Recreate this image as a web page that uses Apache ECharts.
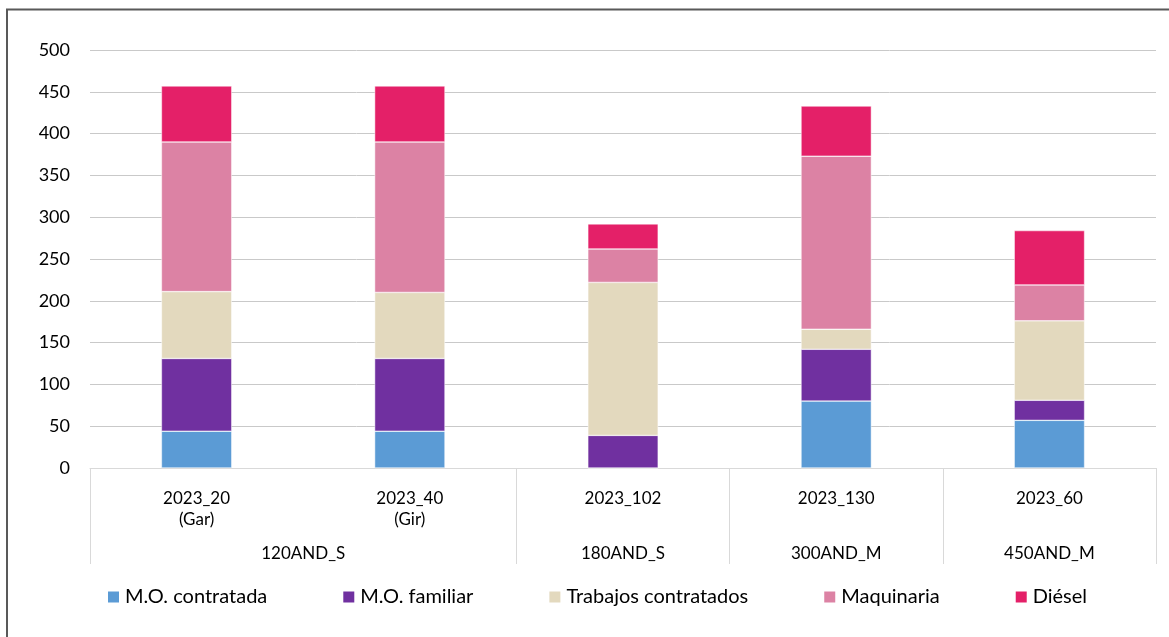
<!DOCTYPE html>
<html lang="es">
<head>
    <meta charset="UTF-8">
    <title>Costes por explotación</title>
    <script src="https://cdn.jsdelivr.net/npm/echarts@6/dist/echarts.min.js"></script>
    <style>
        body { margin: 0; background: #fff; }
    </style>
</head>
<body>
<div id="main" style="width: 1169px;height: 637px"></div>
<script type="text/javascript">
    // datos
    var categorias = ['2023_20\n(Gar)', '2023_40\n(Gir)', '2023_102', '2023_130', '2023_60'];
    var grupos = ['120AND_S', '180AND_S', '300AND_M', '450AND_M'];
    var gruposCentro = [1, 2.5, 3.5, 4.5];   // posición del rótulo de cada grupo
    var gruposLimites = [0, 2, 3, 4, 5];     // separadores entre grupos

    var moContratada = [44, 44, 0, 80, 57];
    var moFamiliar = [87, 87, 39, 62, 24];
    var trabajosContratados = [80, 79, 183, 24, 95];
    var maquinaria = [179, 180, 40, 207, 43];
    var diesel = [67, 67, 30, 60, 65];

    var fuente = 'Lato';
    var myChart = echarts.init(document.getElementById('main'));

    function serie(nombre, datos, color) {
        return {
            name: nombre,
            type: 'bar',
            stack: 'total',
            barWidth: '33%',
            data: datos,
            itemStyle: {color: color, borderColor: '#ffffff', borderWidth: 0.5}
        };
    }

    var option = {
        textStyle: {fontFamily: fuente},
        animation: false,
        grid: {left: 90, right: 13, top: 50, bottom: 169},
        graphic: [{
            type: 'polyline',
            shape: {points: [[7, 700], [7, 9.5], [1200, 9.5]]},
            style: {stroke: '#595959', lineWidth: 2, fill: null}
        }],
        legend: {
            bottom: 25,
            left: 101,
            itemWidth: 13,
            itemHeight: 13,
            itemGap: 74,
            icon: 'rect',
            textStyle: {fontFamily: fuente, fontSize: 20, color: '#000'},
            data: ['M.O. contratada', 'M.O. familiar', 'Trabajos contratados', 'Maquinaria', 'Diésel']
        },
        xAxis: [{
            type: 'category',
            data: categorias,
            axisLine: {lineStyle: {color: '#d9d9d9'}},
            axisTick: {show: false},
            axisLabel: {
                margin: 20,
                fontFamily: fuente,
                fontSize: 17,
                lineHeight: 21,
                color: '#000'
            }
        }, {
            type: 'value',
            position: 'bottom',
            min: 0,
            max: 5,
            splitLine: {show: false},
            axisLine: {show: false},
            axisTick: {
                show: true,
                length: 96,
                customValues: gruposLimites,
                lineStyle: {color: '#d9d9d9'}
            },
            axisLabel: {
                margin: 77,
                fontFamily: fuente,
                fontSize: 17,
                color: '#000',
                customValues: gruposCentro,
                formatter: function (v) {
                    var i = gruposCentro.indexOf(v);
                    return i >= 0 ? grupos[i] : '';
                }
            }
        }],
        yAxis: {
            type: 'value',
            min: 0,
            max: 500,
            interval: 50,
            axisLine: {show: false},
            axisTick: {show: false},
            splitLine: {lineStyle: {color: '#c9c9c9'}},
            axisLabel: {margin: 20, fontFamily: fuente, fontSize: 18, color: '#000'}
        },
        series: [
            serie('M.O. contratada', moContratada, '#5b9bd5'),
            serie('M.O. familiar', moFamiliar, '#7030a0'),
            serie('Trabajos contratados', trabajosContratados, '#e3d9be'),
            serie('Maquinaria', maquinaria, '#dc82a4'),
            serie('Diésel', diesel, '#e42068')
        ]
    };
    myChart.setOption(option);
</script>
</body>
</html>
